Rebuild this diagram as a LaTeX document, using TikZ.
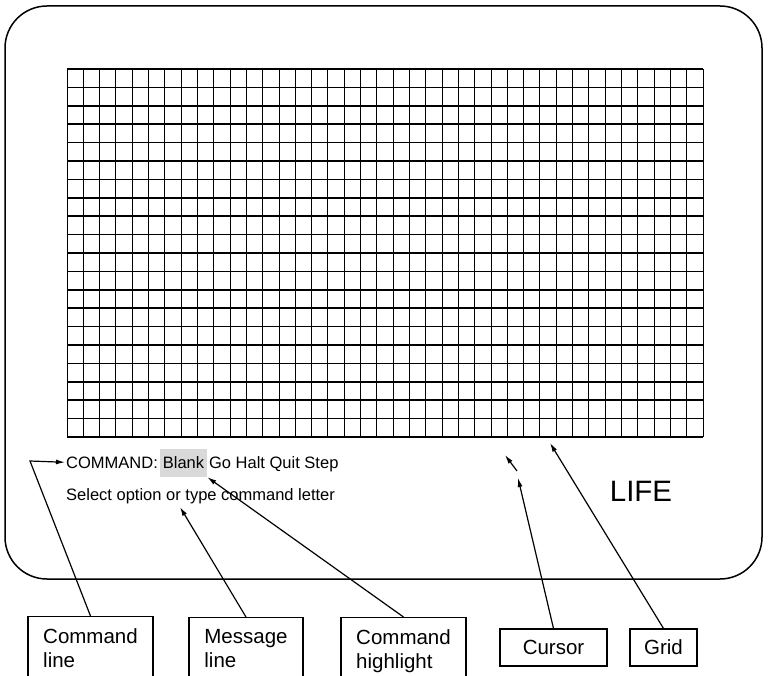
\documentclass[tikz,border=0pt]{standalone}
\usepackage{fontspec}
\setmainfont{Liberation Sans}
\usetikzlibrary{positioning,arrows.meta}

\tikzset{
	pointer/.style={-{Latex[length=9pt,width=5pt]}, line width=1.2pt},
	labelbox/.style={draw, line width=1.1pt, inner xsep=0pt, inner ysep=12pt, align=left, font=\fontsize{20.5}{24}\selectfont},
	screentext/.style={inner sep=0pt, font=\fontsize{16.5}{20}\selectfont},
}

\begin{document}
\begin{tikzpicture}[x=1pt, y=-1pt]
	\useasboundingbox (0,0) rectangle (770,676);
	\clip (0,0) rectangle (770,676);
	\fill[white] (0,0) rectangle (770,676);
	
	%screen
	\draw[line width=1.5pt, rounded corners=42pt] (5,6) rectangle (762,579);
	
	%grid
	\foreach \r in {0,...,20}{
		\draw[line width=1.5pt] (67, 69+\r*18.4) -- (703, 69+\r*18.4);
	}
	\foreach \c in {0,...,39}{
		\draw[line width=0.9pt] (67+\c*16.308, 69) -- (67+\c*16.308, 437);
	}
	\coordinate (gridedge) at (550,443);
	
	%screen text
	\node (cmd) at (66,468) [screentext, anchor=base west]{COMMAND:};
	\node (blank) [screentext, right=1.6pt of cmd.base east, anchor=base west, fill=gray!30, inner xsep=3pt, text height=19pt, text depth=9pt]{Blank};
	\node (cmds) [screentext, right=1.6pt of blank.base east, anchor=base west]{Go Halt Quit Step};
	\node (msg) at (66,500) [screentext, anchor=base west]{Select option or type command letter};
	\node (life) at (641,491) [font=\fontsize{29.5}{32}\selectfont]{LIFE};
	
	%cursor
	\coordinate (cursortail) at (518,478);
	\coordinate (cursortip) at (505,455);
	\draw[pointer] (517,471) -- (cursortip);
	
	%labels
	\node (cmdline) at (90.5,616) [labelbox, anchor=north, minimum width=125pt]{Command\\line};
	\node (msgline) at (246,617) [labelbox, anchor=north, minimum width=114pt]{Message\\line};
	\node (hiline) at (403.5,617) [labelbox, anchor=north, minimum width=125pt]{Command\\highlight};
	\node (cursorbox) at (553.5,647.5) [labelbox, inner ysep=0pt, minimum width=107pt, minimum height=37pt]{Cursor};
	\node (gridbox) at (663.5,647.5) [labelbox, inner ysep=0pt, minimum width=67pt, minimum height=37pt]{Grid};
	
	\coordinate (bend) at (30,461);
	\coordinate (msgtip) at (180,507);
	\draw[pointer, shorten >=1pt] (cmdline.north) -- (bend) -- (cmd.west);
	\draw[pointer] (msgline.north) -- (msgtip);
	\draw[pointer] (hiline.north) -- (blank.south east);
	\draw[pointer] (cursorbox.north) -- (cursortail);
	\draw[pointer] (gridbox.north) -- (gridedge);
\end{tikzpicture}
\end{document}
